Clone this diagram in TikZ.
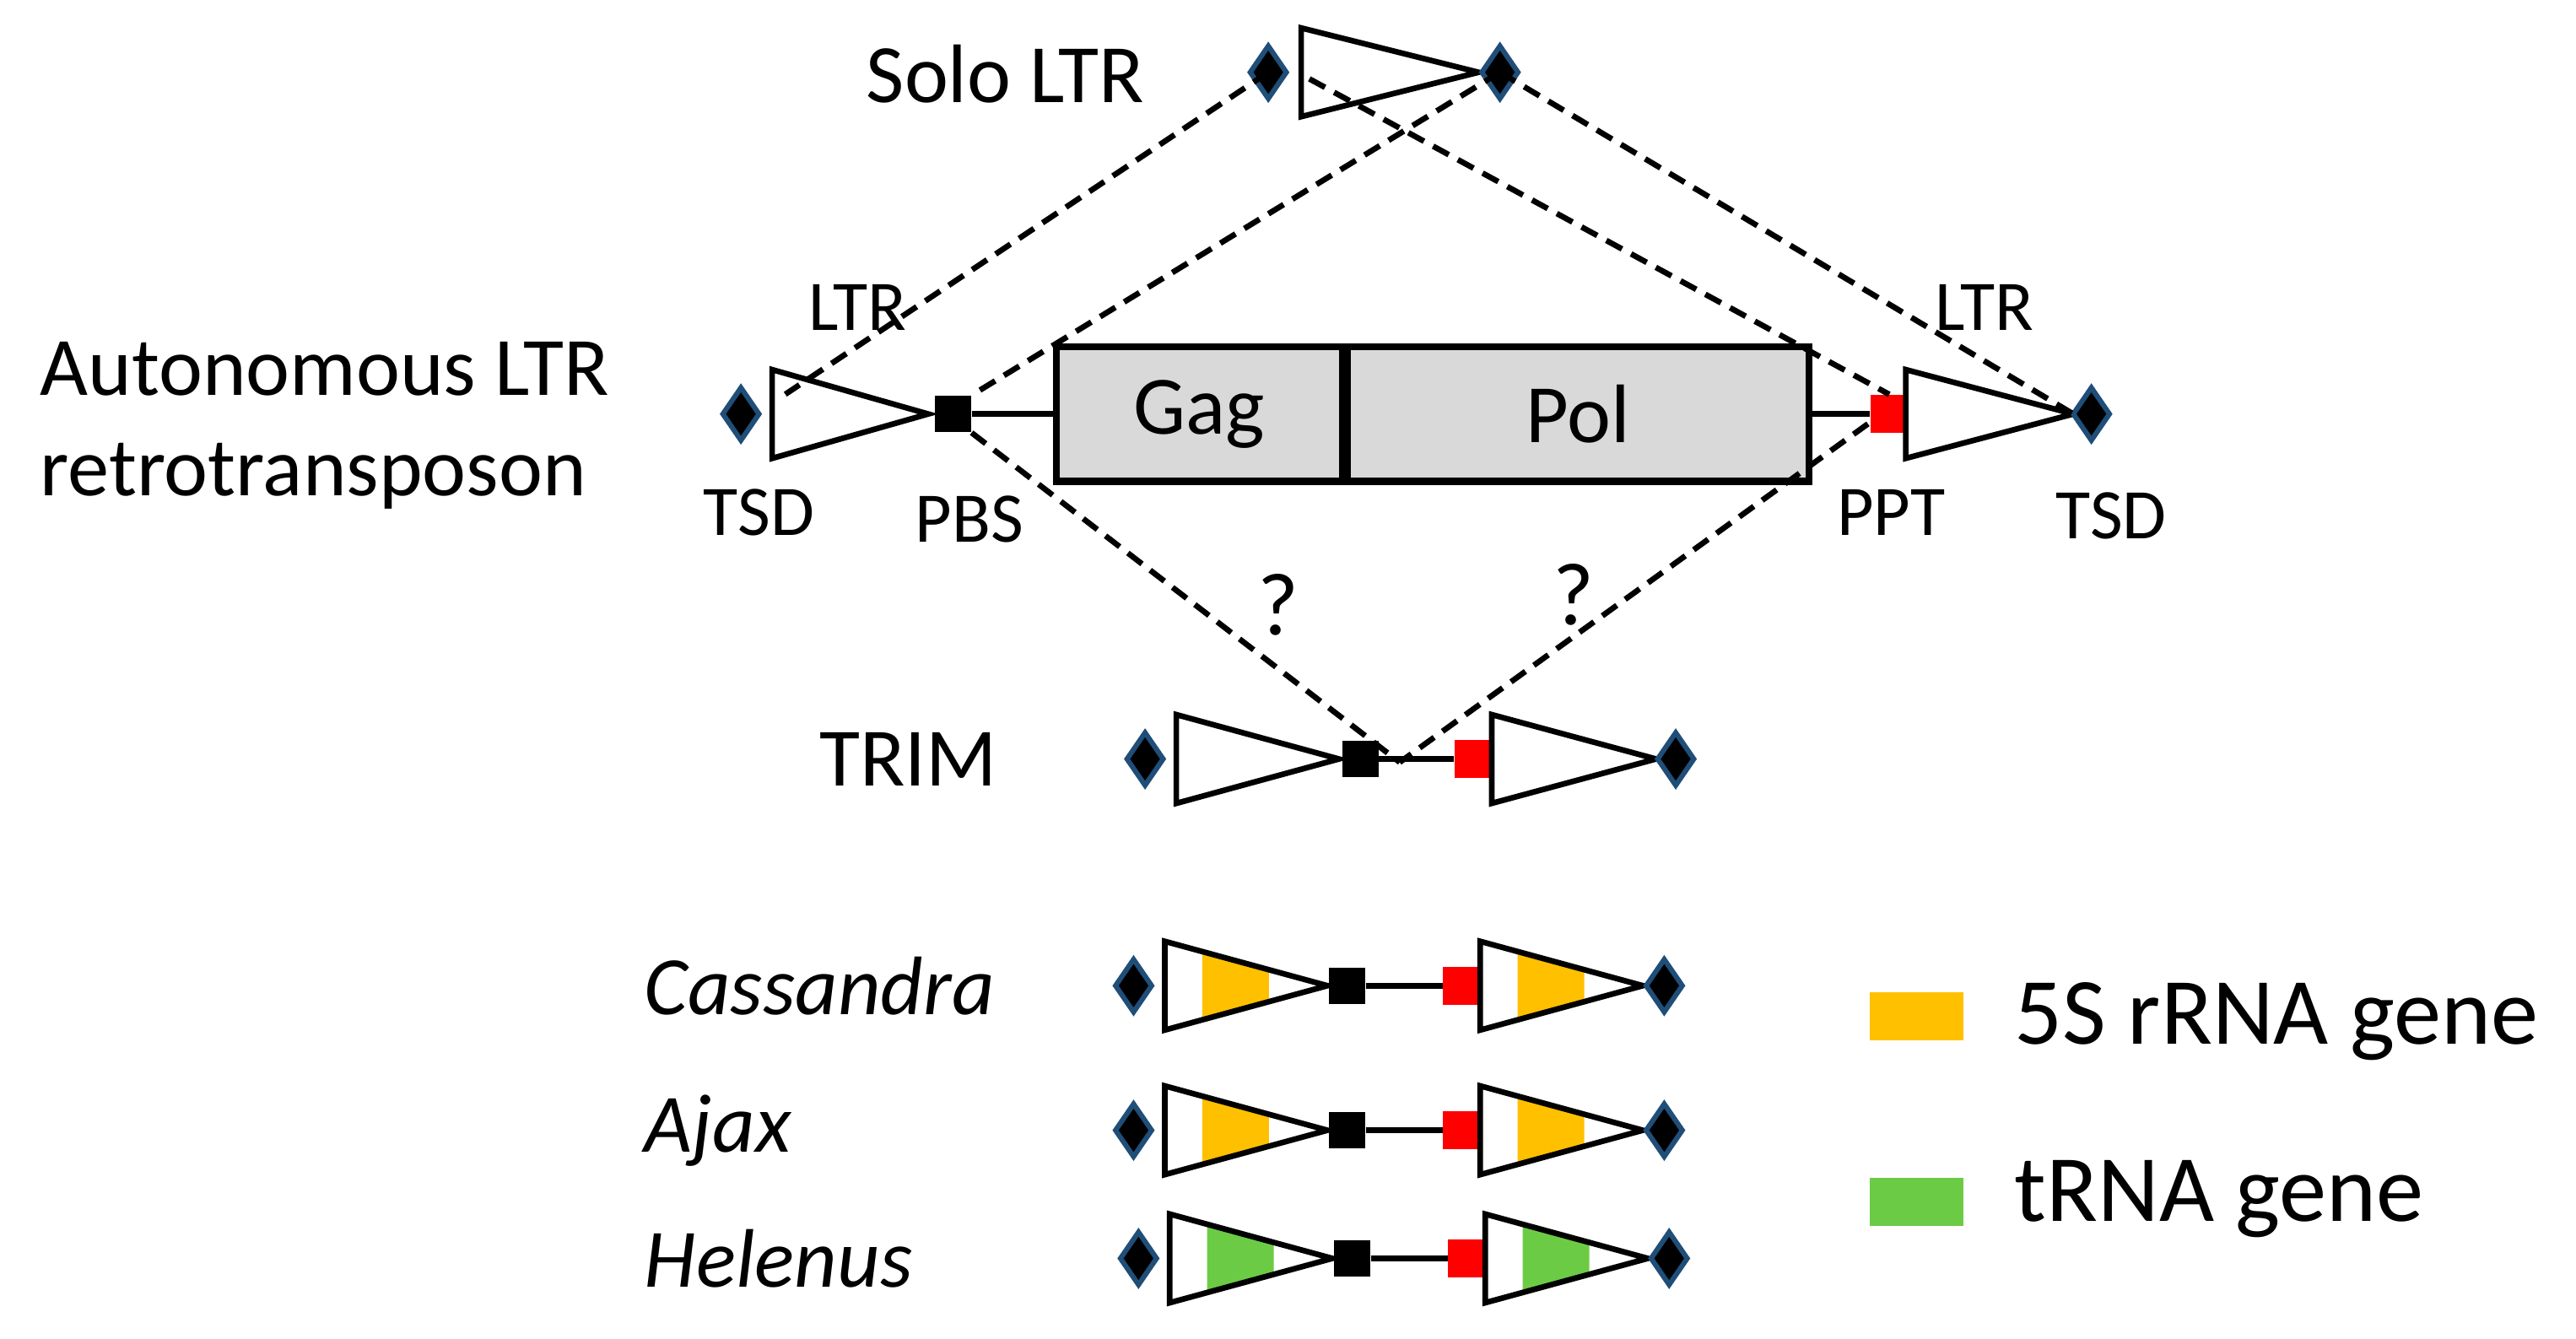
\documentclass[tikz,border=0pt]{standalone}
\usepackage{fontspec}
\setmainfont{Carlito}
\usetikzlibrary{shapes.geometric}
\definecolor{dblue}{HTML}{1F4E79}
\definecolor{orng}{HTML}{FFC000}
\definecolor{grn}{HTML}{6CCB45}
\definecolor{boxgray}{HTML}{D9D9D9}
\tikzset{
 tri/.style={draw=black,line width=1.9pt,fill=white,line join=miter},
 pbs/.style={rectangle,fill=black,inner sep=0pt,minimum width=0.43cm,minimum height=0.43cm},
 ppt/.style={rectangle,fill=red,inner sep=0pt,minimum width=0.45cm,minimum height=0.45cm},
 link/.style={line width=1.9pt},
 dsh/.style={line width=1.9pt,dash pattern=on 6pt off 3.5pt},
 lab/.style={font=\fontsize{24}{28}\selectfont},
 big/.style={font=\fontsize{28}{34}\selectfont},
 leg/.style={font=\fontsize{32}{38}\selectfont,anchor=west},
}
\newcommand\TSD[3]{% name x y
 \coordinate (#1) at (#2,#3);
 \draw[dblue,fill=black,line width=1.7pt,line join=miter] (#2-11,#3) -- (#2,#3-16) -- (#2+11,#3) -- (#2,#3+16) -- cycle;}
\newcommand\LTRtri[3]{% x y fillcolor
 \ifx\relax#3\relax\else
 \fill[#3] ({#1+0.23*99},{#2-27*0.77}) -- ({#1+0.64*99},{#2-27*0.36}) -- ({#1+0.64*99},{#2+27*0.36}) -- ({#1+0.23*99},{#2+27*0.77}) -- cycle;
 \fi
 \draw[tri,fill=none] (#1,#2-27) -- (#1+99,#2) -- (#1,#2+27) -- cycle;}
\newcommand\Elem[5]{% prefix x y fill label
 \TSD{#1l}{#2-19}{#3}
 \LTRtri{#2}{#3}{#4}
 \node[pbs] (#1p) at (#2+111,#3) {};
 \node[ppt] (#1r) at (#2+181,#3) {};
 \draw[link] (#1p) -- (#1r);
 \LTRtri{#2+192}{#3}{#4}
 \TSD{#1t}{#2+304}{#3}
 \node[font=\fontsize{28}{34}\selectfont\itshape,anchor=west] (#1n) at (386,#3) {#5};}
\begin{document}
\begin{tikzpicture}[x=0.01947cm,y=-0.01947cm]
\useasboundingbox (0,0) rectangle (1568,815);
% Solo LTR
\node[big] (solo) at (612,45) {Solo LTR};
\draw[tri] (792,17) -- (900,44) -- (792,71) -- cycle;
\TSD{sl}{772}{44}
\TSD{sr}{913}{44}
% Autonomous
\node[big,align=left,anchor=west] (auto) at (18,259) {Autonomous LTR\\retrotransposon};
\TSD{al}{451}{252}
\draw[tri] (470,225) -- (565,252) -- (470,279) -- cycle;
\node[pbs] (ap) at (580,252) {};
\node[draw,line width=2.3pt,fill=boxgray,minimum width=174*0.01947cm,minimum height=82*0.01947cm,inner sep=0pt,anchor=west,big] (gag) at (641,252) {Gag};
\node[draw,line width=2.3pt,fill=boxgray,minimum width=281*0.01947cm,minimum height=82*0.01947cm,inner sep=0pt,anchor=west,big] (pol) at (818,252) {Pol};
\node[ppt] (ar) at (1150,252) {};
\draw[link] (ap) -- (gag.west);
\draw[link] (pol.east) -- (ar);
\draw[tri] (1160,225) -- (1262,252) -- (1160,279) -- cycle;
\TSD{at}{1273}{252}
\node[lab] at (522,187) {LTR};
\node[lab] at (1208,187) {LTR};
\node[lab] at (462,312) {TSD};
\node[lab] at (590,316) {PBS};
\node[lab] at (1151,312) {PPT};
\node[lab] at (1285,314) {TSD};
% TRIM
\node[big] (trim) at (553,462) {TRIM};
\TSD{tl}{697}{462}
\draw[tri] (716,435) -- (815,462) -- (716,489) -- cycle;
\node[pbs] (tp) at (828,462) {};
\node[ppt] (tr) at (897,462) {};
\draw[link] (tp) -- (tr);
\draw[tri] (908,435) -- (1008,462) -- (908,489) -- cycle;
\TSD{tt}{1020}{462}
\coordinate (tj) at (852,464);
\node[font=\fontsize{30}{36}\selectfont] at (778,368) {?};
\node[font=\fontsize{30}{36}\selectfont] at (958,362) {?};
% dashed
\coordinate (a1) at (478,240);
\coordinate (a3) at (1262,252);
\coordinate (s1) at (797,48);
\coordinate (b2) at (1137,258);
\draw[dsh] (sl) -- (a1);
\draw[dsh] (sr) -- (ap.north east);
\draw[dsh] (s1) -- (ar.north);
\draw[dsh] (sr) -- (a3);
\draw[dsh] (ap.south east) -- (tj);
\draw[dsh] (b2) -- (tj);
% family elements
\Elem{c}{709}{600}{orng}{Cassandra}
\Elem{j}{709}{688}{orng}{Ajax}
\Elem{h}{712}{766}{grn}{Helenus}
% legend
\fill[orng] (1138,604) rectangle (1195,633);
\node[leg] at (1220,622) {5S rRNA gene};
\fill[grn] (1138,717) rectangle (1195,746);
\node[leg] at (1220,730) {tRNA gene};
\end{tikzpicture}
\end{document}
